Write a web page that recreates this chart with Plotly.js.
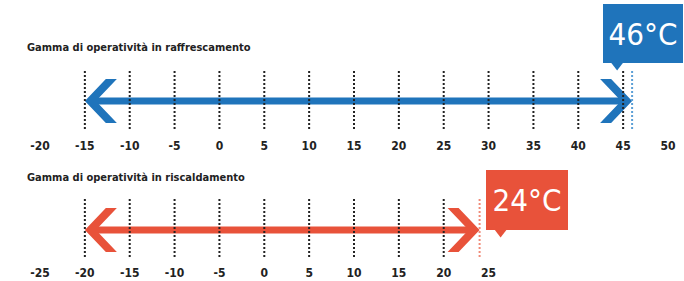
<!DOCTYPE html>
<html>
<head>
<meta charset="utf-8">
<script src="https://cdn.plot.ly/plotly-3.0.1.min.js"></script>
<style>html,body{margin:0;padding:0;background:#fff;}#chart{width:684px;height:281px;}</style>
</head>
<body>
<div id="chart"></div>
<script>
// ---- data ----
const coolTitle = "Gamma di operatività in raffrescamento";
const heatTitle = "Gamma di operatività in riscaldamento";
const coolTicks = [-20, -15, -10, -5, 0, 5, 10, 15, 20, 25, 30, 35, 40, 45, 50];
const heatTicks = [-25, -20, -15, -10, -5, 0, 5, 10, 15, 20, 25];
const coolGuides = [-15, -10, -5, 0, 5, 10, 15, 20, 25, 30, 35, 40, 45];
const heatGuides = [-20, -15, -10, -5, 0, 5, 10, 15, 20];
const coolMin = -15, coolMax = 46;
const heatMin = -20, heatMax = 24;
const coolLabel = "46°C";
const heatLabel = "24°C";

// ---- style ----
const BLUE = "#1f74bb", BLUE_LIGHT = "#5b9fd6";
const RED = "#e8523a", RED_LIGHT = "#f08a78";
const INK = "#222222";
const NARROW = "DejaVu Sans Condensed, Liberation Sans Narrow, Arial Narrow, sans-serif";
const UPX = 70 / 628; // data units per pixel

function arrowTraces(vmin, vmax, color, xa, ya) {
  const a = 21 * UPX, b = 32 * UPX, c = 11 * UPX, h = 22;
  const out = [];
  out.push({x: [vmin + 0.6, vmax - 0.6], y: [0, 0], xaxis: xa, yaxis: ya, mode: "lines",
    line: {color: color, width: 7}, hoverinfo: "skip"});
  out.push({x: [vmin, vmin + a, vmin + b, vmin + c, vmin + b, vmin + a, vmin],
    y: [0, h, h, 0, -h, -h, 0], xaxis: xa, yaxis: ya, mode: "lines", fill: "toself",
    fillcolor: color, line: {width: 0, color: color}, hoverinfo: "skip"});
  out.push({x: [vmax, vmax - a, vmax - b, vmax - c, vmax - b, vmax - a, vmax],
    y: [0, h, h, 0, -h, -h, 0], xaxis: xa, yaxis: ya, mode: "lines", fill: "toself",
    fillcolor: color, line: {width: 0, color: color}, hoverinfo: "skip"});
  return out;
}
function guideTraces(vals, color, xa, ya, top, bot) {
  const xs = [], ys = [];
  vals.forEach(v => { xs.push(v, v, null); ys.push(top, bot, null); });
  return {x: xs, y: ys, xaxis: xa, yaxis: ya, mode: "lines",
    line: {color: color, width: 2, dash: "2px,2px"}, hoverinfo: "skip", connectgaps: false};
}

const traces = [];
traces.push(...arrowTraces(coolMin, coolMax, BLUE, "x", "y"));
traces.push(guideTraces(coolGuides, INK, "x", "y", 30, -28));
traces.push(guideTraces([coolMax], BLUE_LIGHT, "x", "y", 30, -28));
traces.push(...arrowTraces(heatMin, heatMax, RED, "x2", "y2"));
traces.push(guideTraces(heatGuides, INK, "x2", "y2", 31, -28));
traces.push(guideTraces([heatMax], RED_LIGHT, "x2", "y2", 31, -28));
// callout pointers
traces.push({x: [coolMax - 15 * UPX], y: [35.5], xaxis: "x", yaxis: "y", mode: "markers",
  marker: {symbol: "triangle-down", size: 10, color: BLUE}, cliponaxis: false, hoverinfo: "skip"});
traces.push({x: [heatMax + 21 * UPX], y: [-2.5], xaxis: "x2", yaxis: "y2", mode: "markers",
  marker: {symbol: "triangle-down", size: 10, color: RED}, cliponaxis: false, hoverinfo: "skip"});

const H = 281;
const tickFont = {family: NARROW, size: 12, color: INK, weight: "bold"};
const layout = {
  width: 684, height: 281,
  margin: {l: 40, r: 16, t: 0, b: 0},
  paper_bgcolor: "#ffffff", plot_bgcolor: "rgba(0,0,0,0)",
  showlegend: false,
  xaxis: {range: [-20, 50], domain: [0, 1], anchor: "y", tickvals: coolTicks, ticktext: coolTicks.map(String),
    showgrid: false, zeroline: false, showline: false, ticks: "", ticklabelstandoff: 2, tickfont: tickFont, fixedrange: true},
  yaxis: {range: [-34, 36], domain: [1 - 135 / H, 1 - 65 / H], visible: false, fixedrange: true},
  xaxis2: {range: [-25, 45], domain: [0, 1], anchor: "y2", tickvals: heatTicks, ticktext: heatTicks.map(String),
    showgrid: false, zeroline: false, showline: false, ticks: "", ticklabelstandoff: 2, tickfont: tickFont, fixedrange: true},
  yaxis2: {range: [-32, 40], domain: [1 - 262 / H, 1 - 190 / H], visible: false, fixedrange: true},
  annotations: [
    {text: coolTitle, xref: "paper", yref: "paper", x: -15 / 628, y: 1 - 47 / H, xanchor: "left", yanchor: "middle",
      showarrow: false, font: {family: NARROW, size: 11, color: INK, weight: "bold"}},
    {text: heatTitle, xref: "paper", yref: "paper", x: -15 / 628, y: 1 - 177 / H, xanchor: "left", yanchor: "middle",
      showarrow: false, font: {family: NARROW, size: 11, color: INK, weight: "bold"}},
    {text: coolLabel, xref: "x", yref: "paper", x: coolMax, xshift: -29, y: 1 - 4 / H, xanchor: "left", yanchor: "top",
      showarrow: false, width: 80, height: 59, bgcolor: BLUE, borderpad: 0, borderwidth: 0,
      font: {family: NARROW, size: 31, color: "#ffffff"}, align: "center", valign: "middle"},
    {text: heatLabel, xref: "x2", yref: "paper", x: heatMax, xshift: 6, y: 1 - 170 / H, xanchor: "left", yanchor: "top",
      showarrow: false, width: 82, height: 60, bgcolor: RED, borderpad: 0, borderwidth: 0,
      font: {family: NARROW, size: 31, color: "#ffffff"}, align: "center", valign: "middle"}
  ]
};
Plotly.newPlot("chart", traces, layout, {displayModeBar: false, staticPlot: true});
</script>
</body>
</html>
